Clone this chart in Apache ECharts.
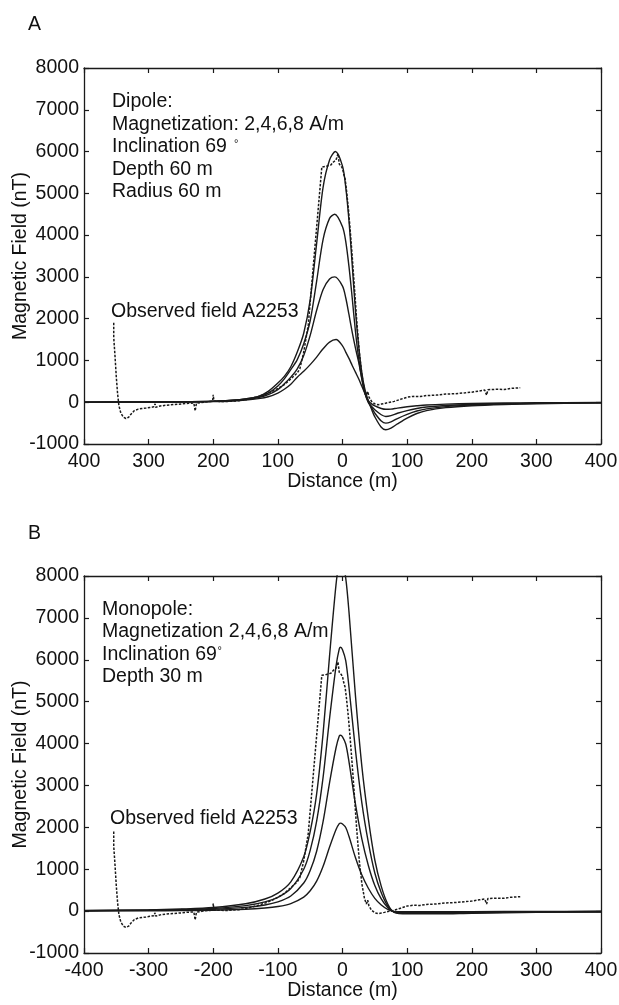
<!DOCTYPE html>
<html><head><meta charset="utf-8">
<script src="https://cdn.jsdelivr.net/npm/echarts@6/dist/echarts.min.js"></script>
<style>html,body{margin:0;padding:0;background:#fff}#c{width:619px;height:1005px}</style>
</head><body><div id="c"></div>
<script>
// ---- tick values / labels ----
const xTicks = [-400,-300,-200,-100,0,100,200,300,400];
const xTickLabelsA = ['400','300','200','100','0','100','200','300','400'];
const xTickLabelsB = ['-400','-300','-200','-100','0','100','200','300','400'];
const yTicks = [-1000,0,1000,2000,3000,4000,5000,6000,7000,8000];
const yTickLabels = ['-1000','0','1000','2000','3000','4000','5000','6000','7000','8000'];

// ---- Panel A: dipole models, magnetization 2,4,6,8 A/m  [distance m, nT] ----
const dipole2 = [[-400,2],[-300,4],[-250,7],[-200,15],[-170,30],[-150,50],[-130,85],[-115,130],[-100,220],[-90,310],[-80,430],[-70,600],[-60,740],[-50,900],[-40,1080],[-30,1280],[-20,1440],[-10,1500],[0,1350],[5,1200],[10,1050],[15,880],[20,720],[25,560],[30,380],[35,200],[40,40],[45,-40],[50,-90],[60,-150],[67,-170],[75,-165],[85,-140],[100,-110],[115,-85],[130,-65],[160,-45],[200,-30],[250,-20],[300,-12],[400,-5]];
const dipole4 = [[-400,2],[-300,5],[-250,8],[-200,20],[-170,40],[-150,65],[-130,110],[-115,180],[-100,300],[-90,440],[-80,600],[-70,800],[-60,1120],[-50,1600],[-40,2200],[-30,2700],[-20,2950],[-12,3000],[0,2780],[5,2500],[10,2100],[15,1680],[20,1300],[25,960],[30,560],[35,200],[40,-10],[45,-100],[50,-180],[60,-300],[67,-340],[75,-320],[85,-265],[100,-200],[115,-150],[130,-115],[160,-80],[200,-55],[250,-35],[300,-22],[400,-10]];
const dipole6 = [[-400,3],[-300,6],[-250,10],[-200,25],[-170,50],[-150,80],[-130,130],[-115,220],[-100,390],[-90,560],[-80,780],[-70,1020],[-60,1400],[-50,1950],[-40,2900],[-30,3900],[-20,4400],[-12,4500],[0,4200],[5,3850],[10,3250],[15,2500],[20,1700],[25,1050],[30,550],[35,200],[40,10],[45,-130],[50,-260],[60,-450],[67,-500],[75,-470],[85,-390],[100,-290],[115,-210],[130,-160],[160,-105],[200,-70],[250,-45],[300,-28],[400,-12]];
const dipole8 = [[-400,3],[-300,6],[-250,10],[-200,25],[-170,50],[-150,80],[-130,140],[-115,260],[-100,460],[-90,620],[-80,850],[-70,1200],[-60,1650],[-50,2450],[-40,3800],[-30,5150],[-20,5800],[-11,6000],[0,5650],[5,5150],[10,4350],[15,3300],[20,2200],[25,1350],[30,700],[35,280],[40,30],[45,-170],[50,-350],[60,-600],[67,-660],[75,-620],[85,-520],[100,-380],[115,-270],[130,-200],[160,-130],[200,-85],[250,-55],[300,-35],[400,-15]];

// ---- Panel B: monopole models, magnetization 2,4,6,8 A/m ----
const mono2 = [[-400,4],[-300,8],[-250,13],[-200,21],[-150,44],[-120,74],[-100,110],[-80,180],[-60,335],[-50,485],[-40,715],[-30,1070],[-20,1530],[-10,1950],[-5,2090],[-3,2100],[0,2080],[5,1995],[10,1785],[20,1280],[30,860],[40,545],[50,305],[60,147],[70,42],[80,-8],[100,-17],[150,-17],[200,-13],[300,-8],[400,-5]];
const mono4 = [[-400,8],[-300,17],[-250,25],[-200,42],[-150,88],[-120,147],[-100,220],[-80,360],[-60,670],[-50,970],[-40,1430],[-30,2140],[-20,3070],[-10,3900],[-5,4180],[-3,4200],[0,4160],[5,3990],[10,3570],[20,2560],[30,1720],[40,1090],[50,610],[60,290],[70,85],[80,-17],[100,-34],[150,-34],[200,-25],[300,-17],[400,-10]];
const mono6 = [[-400,12],[-300,25],[-250,38],[-200,63],[-150,130],[-120,220],[-100,330],[-80,540],[-60,1000],[-50,1450],[-40,2150],[-30,3200],[-20,4600],[-10,5850],[-5,6260],[-3,6300],[0,6240],[5,5980],[10,5350],[20,3850],[30,2580],[40,1640],[50,910],[60,440],[70,125],[80,-25],[100,-50],[150,-50],[200,-38],[300,-25],[400,-15]];
const mono8 = [[-400,15],[-300,30],[-250,50],[-200,85],[-150,175],[-120,290],[-100,430],[-80,700],[-60,1300],[-50,1900],[-40,2800],[-30,4250],[-20,6100],[-10,7800],[-5,8350],[-3,8400],[0,8320],[5,7950],[10,7150],[20,5150],[30,3450],[40,2200],[50,1220],[60,590],[70,170],[80,-30],[100,-65],[150,-65],[200,-50],[300,-30],[400,-20]];

// ---- Observed field A2253 (same in both panels) ----
const observed = [[-354,1900],[-354,1550],[-352,1100],[-350,600],[-348,200],[-346,-80],[-343,-260],[-339,-360],[-335,-390],[-331,-360],[-327,-280],[-322,-200],[-316,-165],[-310,-150],[-304,-140],[-298,-125],[-292,-110],[-290,-40],[-289,-120],[-282,-90],[-272,-70],[-260,-55],[-248,-40],[-238,-25],[-230,-20],[-228,-210],[-226,-25],[-218,-5],[-208,15],[-201,25],[-200,180],[-199,25],[-190,20],[-180,15],[-170,25],[-160,35],[-150,60],[-149,15],[-148,60],[-140,100],[-130,140],[-120,190],[-110,250],[-100,330],[-90,420],[-80,560],[-70,700],[-66,800],[-60,1200],[-53,1850],[-32,5630],[-25,5650],[-18,5680],[-14,5750],[-10,5800],[-7,5950],[-5,5700],[-2,5650],[0,5600],[2,5450],[4,5350],[6,5100],[9,4650],[12,4100],[15,3500],[18,2850],[22,1950],[26,1200],[30,650],[34,300],[37,170],[39,260],[41,120],[45,20],[50,-40],[55,-60],[60,-45],[65,-30],[70,-10],[80,20],[90,70],[100,120],[110,140],[120,135],[130,160],[145,170],[160,195],[175,205],[190,225],[200,240],[212,270],[220,290],[223,170],[225,300],[240,310],[250,305],[260,330],[275,345]];

const FONT = '"Liberation Sans", Arial, Helvetica, sans-serif';
const INK = '#1a1a1a';

function xAx(gi, pos, labels) {
  return {
    type: 'value', gridIndex: gi, position: pos, min: -400, max: 400, interval: 100,
    axisLine: {show: true, onZero: false, lineStyle: {color: INK, width: 1.3}},
    axisTick: {show: true, inside: true, length: 5, lineStyle: {color: INK, width: 1.2}},
    axisLabel: {show: !!labels, margin: 8, fontSize: 19.5, color: '#111', fontFamily: FONT,
      formatter: v => labels ? labels[xTicks.indexOf(v)] : ''},
    splitLine: {show: false},
    name: labels ? 'Distance (m)' : '', nameLocation: 'middle', nameGap: 28, nameMoveOverlap: false,
    nameTextStyle: {fontSize: 19.5, color: '#111', fontFamily: FONT}
  };
}
function yAx(gi, pos, showLab) {
  return {
    type: 'value', gridIndex: gi, position: pos, min: -1000, max: 8000, interval: 1000,
    axisLine: {show: true, onZero: false, lineStyle: {color: INK, width: 1.3}},
    axisTick: {show: true, inside: true, length: 5, lineStyle: {color: INK, width: 1.2}},
    axisLabel: {show: showLab, margin: 5, fontSize: 19.5, color: '#111', fontFamily: FONT,
      formatter: v => yTickLabels[yTicks.indexOf(v)]},
    splitLine: {show: false},
    name: showLab ? 'Magnetic Field (nT)' : '', nameLocation: 'middle', nameGap: 53, nameMoveOverlap: false,
    nameTextStyle: {fontSize: 19.5, color: '#111', fontFamily: FONT}
  };
}
function model(data, xi, yi) {
  return {type: 'line', data: data, xAxisIndex: xi, yAxisIndex: yi, showSymbol: false,
    smooth: 0.3, lineStyle: {color: INK, width: 1.4}, silent: true, clip: true};
}
function obs(xi, yi) {
  return {type: 'line', data: observed, xAxisIndex: xi, yAxisIndex: yi, showSymbol: false,
    lineStyle: {color: INK, width: 1.5, type: [2.5, 1.5]}, silent: true, clip: true};
}
const txt = (x, y, s, fs, va) => ({type: 'text', x: x, y: y, silent: true,
  style: {text: s, fontSize: fs || 19.5, fontFamily: FONT, fill: '#111', lineHeight: 22.5,
    verticalAlign: va || 'top', align: 'left'}});

const chart = echarts.init(document.getElementById('c'), null, {renderer: 'canvas'});
chart.setOption({
  animation: false,
  backgroundColor: '#fff',
  grid: [
    {left: 84, right: 18, top: 68, height: 376, containLabel: false, outerBoundsMode: 'none'},
    {left: 84, right: 18, top: 576, height: 377, containLabel: false, outerBoundsMode: 'none'}
  ],
  xAxis: [xAx(0, 'bottom', xTickLabelsA), xAx(0, 'top', null), xAx(1, 'bottom', xTickLabelsB), xAx(1, 'top', null)],
  yAxis: [yAx(0, 'left', true), yAx(0, 'right', false), yAx(1, 'left', true), yAx(1, 'right', false)],
  series: [
    model(dipole2, 0, 0), model(dipole4, 0, 0), model(dipole6, 0, 0), model(dipole8, 0, 0), obs(0, 0),
    model(mono2, 2, 2), model(mono4, 2, 2), model(mono6, 2, 2), model(mono8, 2, 2), obs(2, 2)
  ],
  graphic: [
    txt(28, 25, 'A', 19.5, 'middle'),
    txt(28, 534, 'B', 19.5, 'middle'),
    txt(112, 90.5, 'Dipole:\nMagnetization: 2,4,6,8 A/m\nInclination 69\nDepth 60 m\nRadius 60 m'),
    txt(234, 143.5, '°', 11, 'middle'),
    txt(111, 311.7, 'Observed field A2253', 19.5, 'middle'),
    txt(102, 598, 'Monopole:\nMagnetization 2,4,6,8 A/m\nInclination 69\nDepth 30 m'),
    txt(217.5, 651, '°', 11, 'middle'),
    txt(110, 818.3, 'Observed field A2253', 19.5, 'middle')
  ]
});
</script></body></html>
